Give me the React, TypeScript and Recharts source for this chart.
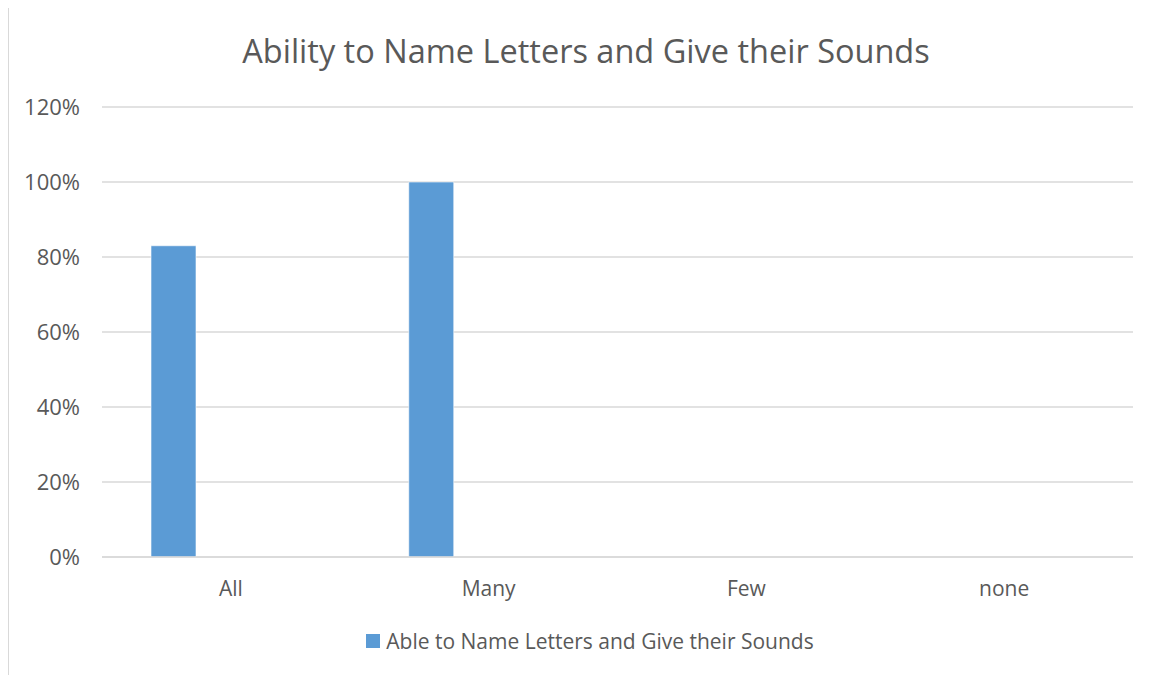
import React from "react";
import { BarChart, Bar, XAxis, YAxis, CartesianGrid, Legend } from "recharts";

// Response categories along the x axis
const categories: string[] = ["All", "Many", "Few", "none"];
// Share of pupils able to name letters and give their sounds (fractions)
const abilityValues: (number | null)[] = [0.83, 1.0, null, null];
// Y axis tick values
const yTicks: number[] = [0, 0.2, 0.4, 0.6, 0.8, 1.0, 1.2];

const seriesName = "Able to Name Letters and Give their Sounds";
const chartTitle = "Ability to Name Letters and Give their Sounds";

const data = categories.map((c, i) => ({
  category: c,
  ability: abilityValues[i],
  spacer: null as number | null,
}));

const FONT = "'Open Sans', 'Noto Sans', sans-serif";
const TEXT = "#595959";
const GRID = "#d9d9d9";
const BLUE = "#5b9bd5";

const pct = (v: number) => `${Math.round(v * 100)}%`;

const LegendContent = () => (
  <div
    style={{
      display: "flex",
      alignItems: "center",
      justifyContent: "center",
      fontFamily: FONT,
      fontSize: 21,
      color: TEXT,
      height: 30,
    }}
  >
    <span
      style={{
        display: "inline-block",
        width: 14,
        height: 14,
        background: BLUE,
        marginRight: 6,
      }}
    />
    <span>{seriesName}</span>
  </div>
);

export default function App() {
  return (
    <div
      style={{
        position: "relative",
        width: 1151,
        height: 667,
        marginTop: -1,
        borderTop: `1px solid ${GRID}`,
        borderLeft: `1px solid ${GRID}`,
        background: "#fff",
        overflow: "hidden",
      }}
    >
      <div
        style={{
          position: "absolute",
          left: 0,
          top: 21,
          width: 1154,
          textAlign: "center",
          fontFamily: FONT,
          fontSize: 32.5,
          color: TEXT,
          lineHeight: "44px",
        }}
      >
        {chartTitle}
      </div>
      <BarChart
        width={1151}
        height={667}
        data={data}
        margin={{ top: 99, right: 27, left: 0, bottom: 58 }}
        barSize={45}
        barGap={70}
      >
        <CartesianGrid vertical={false} stroke={GRID} strokeWidth={1.3} />
        <XAxis
          dataKey="category"
          axisLine={{ stroke: GRID, strokeWidth: 1.3 }}
          tickLine={false}
          tickSize={0}
          tickMargin={24}
          height={30}
          tick={{ fill: TEXT, fontFamily: FONT, fontSize: 21 }}
        />
        <YAxis
          domain={[0, 1.2]}
          ticks={yTicks}
          tickFormatter={pct}
          axisLine={false}
          tickLine={false}
          tickSize={0}
          tickMargin={22}
          width={93}
          tick={{ fill: TEXT, fontFamily: FONT, fontSize: 22 }}
        />
        <Legend
          verticalAlign="bottom"
          content={<LegendContent />}
          wrapperStyle={{ left: 0, width: 1162, top: 618, bottom: "auto" }}
        />
        <Bar
          dataKey="ability"
          name={seriesName}
          fill={BLUE}
          stroke="#ffffff"
          strokeWidth={0.6}
          isAnimationActive={false}
        />
        <Bar
          dataKey="spacer"
          fill={BLUE}
          legendType="none"
          isAnimationActive={false}
        />
      </BarChart>
    </div>
  );
}
